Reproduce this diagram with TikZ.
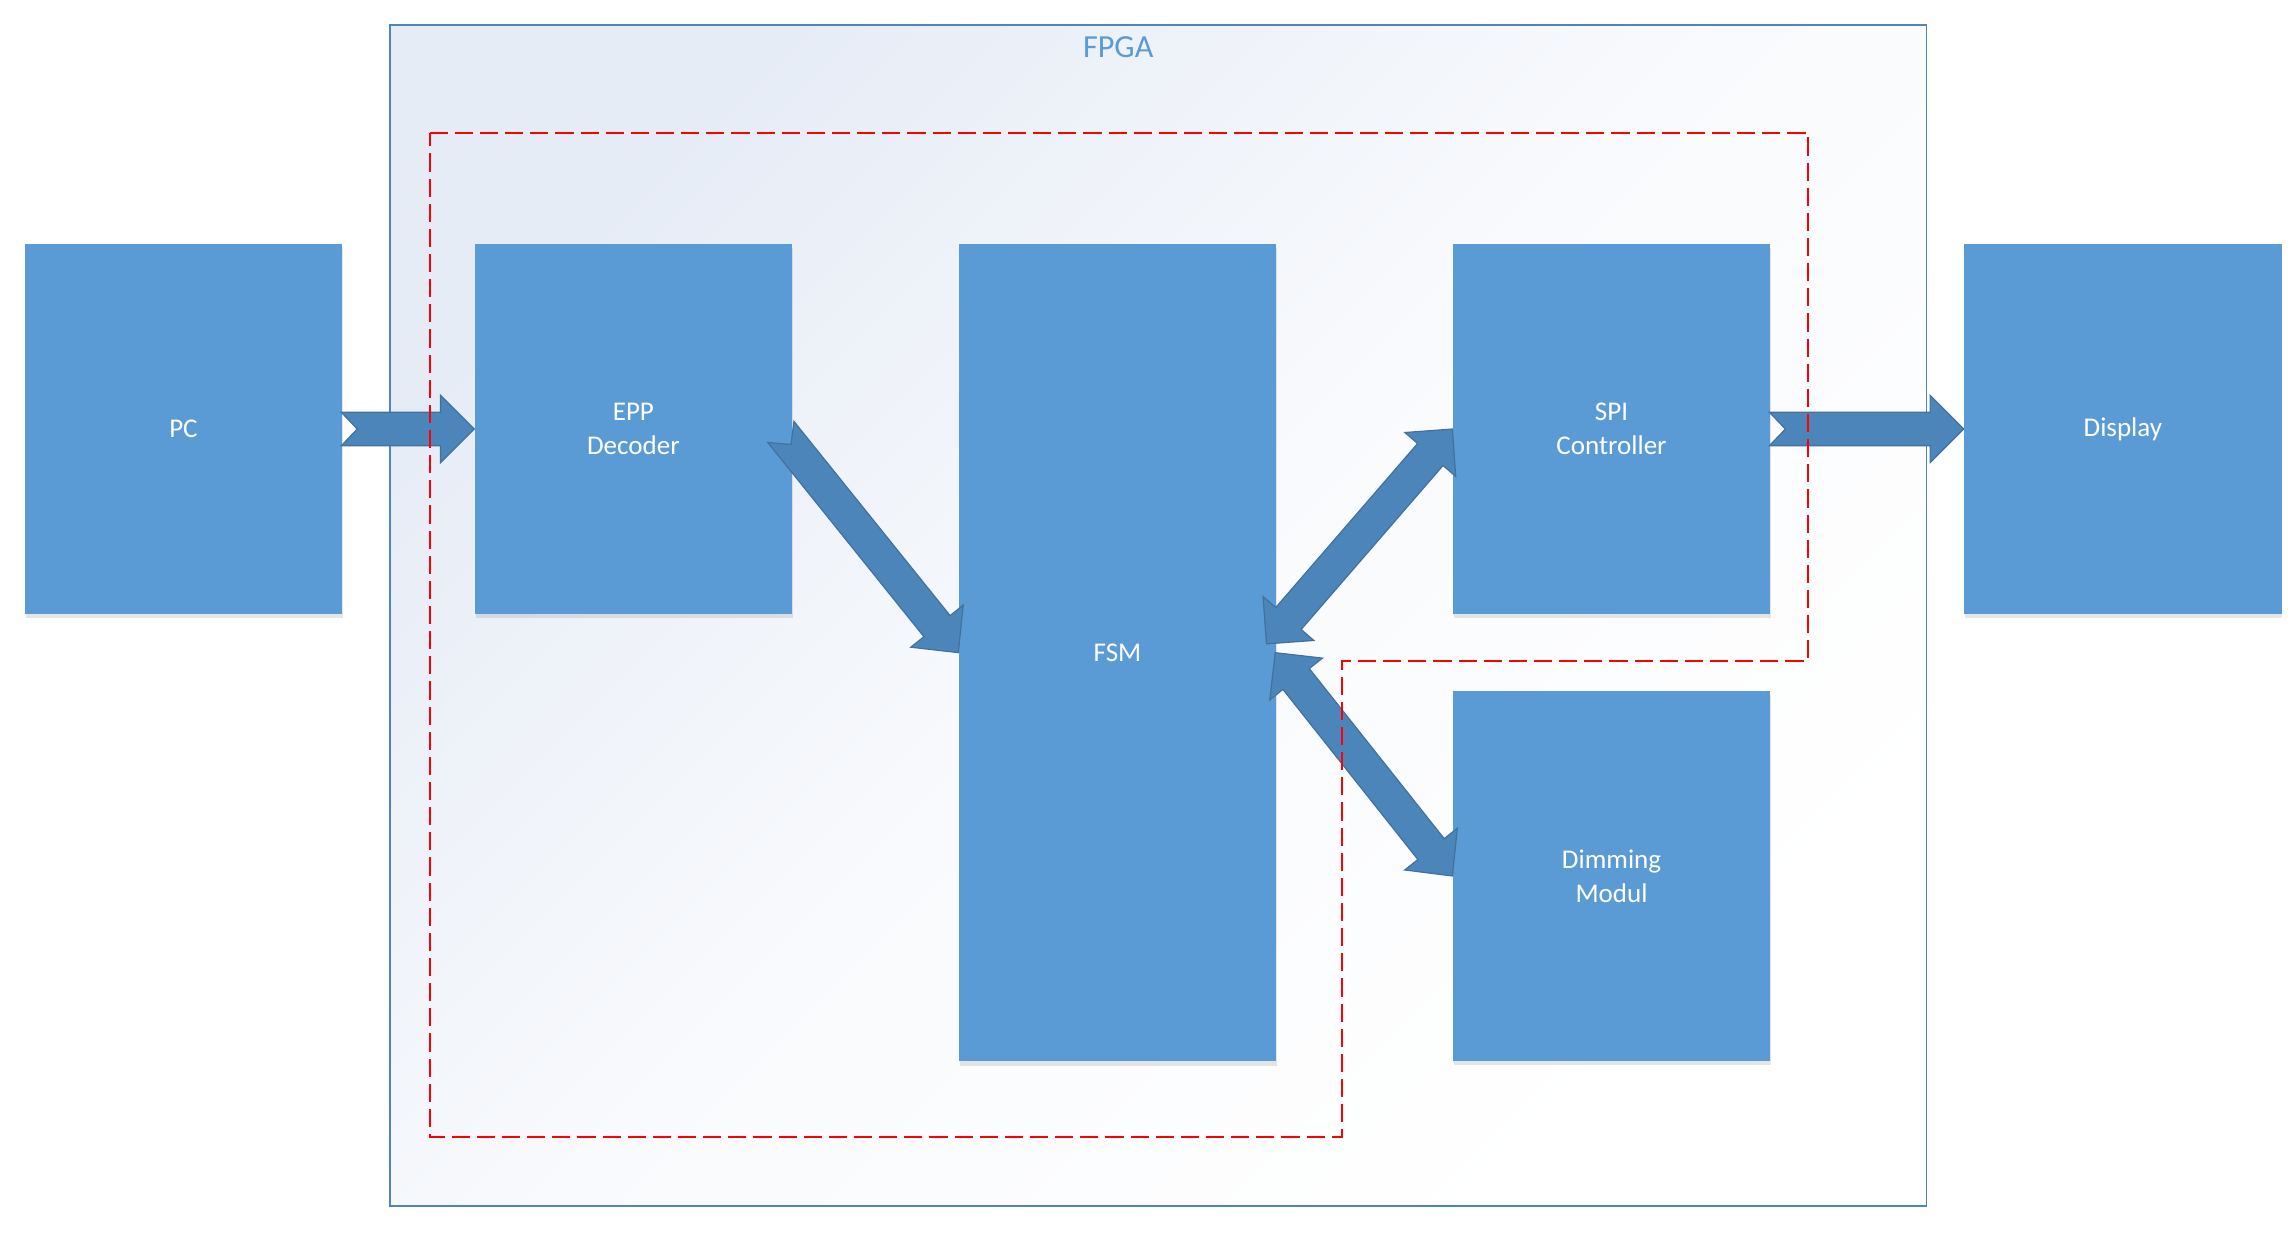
\documentclass[tikz,border=0pt]{standalone}
\usepackage{fontspec}
\setmainfont{Carlito}
\usetikzlibrary{calc}
\usetikzlibrary{positioning}
\usetikzlibrary{shadows}
\definecolor{boxblue}{HTML}{5B9BD5}
\definecolor{arrowblue}{HTML}{4C85B9}
\definecolor{arrowedge}{HTML}{41719C}
\definecolor{frameblue}{HTML}{4F84C0}
\definecolor{fpgabg}{HTML}{E6ECF6}

\begin{document}
\begin{tikzpicture}[
  x=0.5pt, y=-0.5pt,
  block/.style = {fill=boxblue, text=white, minimum width=108.5pt, minimum height=126.5pt,
    inner sep=0pt, align=center, font=\fontsize{9.25}{11.5}\selectfont,
    drop shadow={shadow xshift=0.3pt, shadow yshift=-1.5pt, opacity=0.2}},
  arrowbody/.style = {fill=arrowblue, draw=arrowedge, line width=0.4pt, line join=miter},
  % notched single block arrow from start to target
  blockarrow/.style = {arrowbody, to path={
    let \p1=(\tikztostart), \p2=(\tikztotarget),
        \n1={atan2(\y2-\y1,\x2-\x1)}, \n2={veclen(\x2-\x1,\y2-\y1)} in
    ($(\p1)+(\n1:5.5pt)$)
    -- ($(\p1)+(\n1+90:5.75pt)$)
    -- ($(\p1)+(\n1:\n2-11.5pt)+(\n1+90:5.75pt)$)
    -- ($(\p1)+(\n1:\n2-11.5pt)+(\n1+90:11.5pt)$)
    -- (\p2)
    -- ($(\p1)+(\n1:\n2-11.5pt)+(\n1-90:11.5pt)$)
    -- ($(\p1)+(\n1:\n2-11.5pt)+(\n1-90:5.75pt)$)
    -- ($(\p1)+(\n1-90:5.75pt)$)
    -- cycle}},
  % block arrow with a head at both ends
  twinarrow/.style = {arrowbody, to path={
    let \p1=(\tikztostart), \p2=(\tikztotarget),
        \n1={atan2(\y2-\y1,\x2-\x1)}, \n2={veclen(\x2-\x1,\y2-\y1)} in
    (\p1)
    -- ($(\p1)+(\n1:11.5pt)+(\n1+90:11.5pt)$)
    -- ($(\p1)+(\n1:11.5pt)+(\n1+90:5.75pt)$)
    -- ($(\p1)+(\n1:\n2-11.5pt)+(\n1+90:5.75pt)$)
    -- ($(\p1)+(\n1:\n2-11.5pt)+(\n1+90:11.5pt)$)
    -- (\p2)
    -- ($(\p1)+(\n1:\n2-11.5pt)+(\n1-90:11.5pt)$)
    -- ($(\p1)+(\n1:\n2-11.5pt)+(\n1-90:5.75pt)$)
    -- ($(\p1)+(\n1:11.5pt)+(\n1-90:5.75pt)$)
    -- ($(\p1)+(\n1:11.5pt)+(\n1-90:11.5pt)$)
    -- cycle}},
  zone/.style = {draw=red, line width=0.7pt, dash pattern=on 6.2pt off 2.4pt}
  ]
	\useasboundingbox (0,0) rectangle (1568,855);

	% FPGA frame
	\draw[draw=frameblue, line width=0.6pt, top color=fpgabg, bottom color=white,
		middle color=fpgabg!25!white, shading angle=45]
		(267,17) rectangle (1318,825);
	\node[text=boxblue, font=\fontsize{11}{13}\selectfont] (fpgalabel) at (765,32) {FPGA};

	\node[block] (pc) at (125.5,293.5) {PC};
	\node[block, right=45pt of pc] (epp) {EPP\\Decoder};
	\node[block, minimum height=279.5pt] (fsm) at (764.5,446.5) {FSM};
	\node[block] (spi) at (1102.5,293.5) {SPI\\Controller};
	\node[block, below=26pt of spi] (dim) {Dimming\\Modul};
	\node[block, right=66pt of spi] (disp) {Display};

	\draw[blockarrow] ([xshift=-0.5pt]pc.east) to (epp.west);
	\draw[blockarrow] ([shift={(-8,2)}]epp.east) to (fsm.west);
	\draw[twinarrow] ([shift={(-7,-6)}]fsm.east) to (spi.west);
	\draw[twinarrow] ([shift={(-1,0)}]fsm.east) to (dim.west);
	\draw[blockarrow] ([xshift=-0.5pt]spi.east) to (disp.west);

	% dashed zone
	\draw[zone] (294,91) -- (1237,91) -- (1237,452) -- (918,452) -- (918,778) -- (294,778) -- cycle;

\end{tikzpicture}
\end{document}
